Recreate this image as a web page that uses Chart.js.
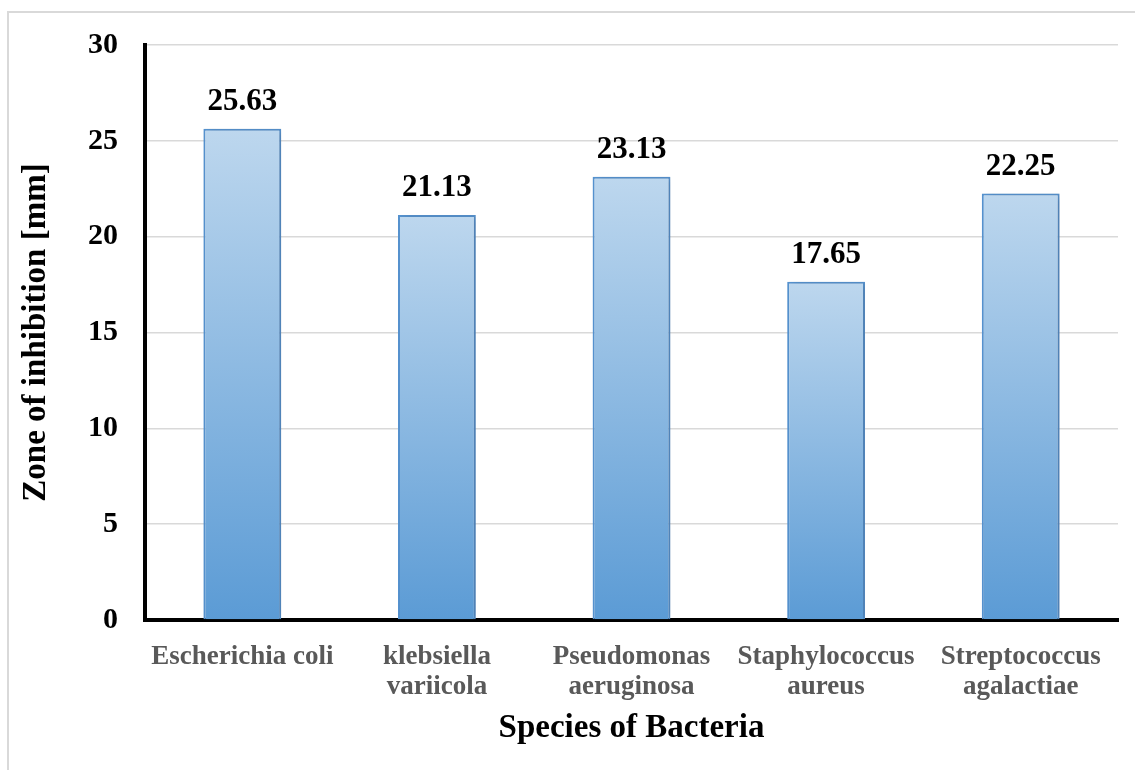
<!DOCTYPE html>
<html>
<head>
<meta charset="utf-8">
<script src="https://cdn.jsdelivr.net/npm/chart.js@4/dist/chart.umd.min.js"></script>
<style>
  html, body { margin: 0; padding: 0; background: #fff; }
  #wrap { position: relative; width: 1135px; height: 770px; overflow: hidden; }
  #frame { position: absolute; left: 7px; top: 11px; width: 1200px; height: 800px; border: 2px solid #d9d9d9; box-sizing: border-box; }
  canvas { position: absolute; left: 0; top: 0; }
</style>
</head>
<body>
<div id="wrap">
  <div id="frame"></div>
  <canvas id="chart" width="1135" height="770"></canvas>
</div>
<script>
// Bacterial species tested (multi-line category labels)
const categories = [
  'Escherichia coli',
  ['klebsiella', 'variicola'],
  ['Pseudomonas', 'aeruginosa'],
  ['Staphylococcus', 'aureus'],
  ['Streptococcus', 'agalactiae']
];
// Mean zone of inhibition in mm
const inhibitionZones = [25.63, 21.13, 23.13, 17.65, 22.25];
// Y-axis range and step
const yTicks = [0, 5, 10, 15, 20, 25, 30];

const FONT = '"Liberation Serif", "Times New Roman", Times, serif';

// Vertical gradient per bar, light at top, darker blue at base
function barGradient(ctx) {
  const chart = ctx.chart;
  if (!chart.chartArea || ctx.type !== 'data') return '#9dc3e6';
  const y = chart.scales.y;
  const top = y.getPixelForValue(ctx.raw);
  const base = y.getPixelForValue(0);
  const g = chart.ctx.createLinearGradient(0, top, 0, base);
  g.addColorStop(0, '#bdd7ee');
  g.addColorStop(1, '#5b9bd5');
  return g;
}

// Soft shadow to the right of each bar
const barShadow = {
  id: 'barShadow',
  beforeDatasetsDraw(chart) {
    const c = chart.ctx;
    c.save();
    c.shadowColor = 'rgba(60,70,90,0.28)';
    c.shadowBlur = 7;
    c.shadowOffsetX = 4;
    c.shadowOffsetY = 0;
  },
  afterDatasetsDraw(chart) {
    chart.ctx.restore();
  }
};

// Value labels above each bar
const valueLabels = {
  id: 'valueLabels',
  afterDatasetsDraw(chart) {
    const c = chart.ctx;
    const meta = chart.getDatasetMeta(0);
    c.save();
    c.shadowColor = 'transparent';
    c.fillStyle = '#000';
    c.font = 'bold 31px ' + FONT;
    c.textAlign = 'center';
    c.textBaseline = 'alphabetic';
    meta.data.forEach((bar, i) => {
      const v = chart.data.datasets[0].data[i];
      c.fillText(v.toFixed(2), bar.x, bar.y - 19);
    });
    c.restore();
  }
};

new Chart(document.getElementById('chart'), {
  type: 'bar',
  data: {
    labels: categories,
    datasets: [{
      data: inhibitionZones,
      backgroundColor: barGradient,
      borderColor: '#5592cf',
      borderWidth: 2,
      borderSkipped: 'bottom',
      barPercentage: 0.4,
      categoryPercentage: 1.0
    }]
  },
  options: {
    responsive: false,
    animation: false,
    devicePixelRatio: 1,
    layout: { padding: { top: 43, right: 17, bottom: 0, left: 0 } },
    plugins: {
      legend: { display: false },
      tooltip: { enabled: false }
    },
    scales: {
      x: {
        grid: { display: false, drawTicks: false },
        border: { display: true, color: '#000', width: 4 },
        ticks: {
          color: '#595959',
          padding: 22,
          maxRotation: 0,
          autoSkip: false,
          font: { family: FONT, size: 27, weight: 'bold', lineHeight: 1.11 }
        },
        title: {
          display: true,
          text: 'Species of Bacteria',
          color: '#000',
          padding: { top: 0, bottom: 22 },
          font: { family: FONT, size: 33, weight: 'bold', lineHeight: 1.2 }
        },
        afterFit(scale) { scale.height = 150; }
      },
      y: {
        min: yTicks[0],
        max: yTicks[yTicks.length - 1],
        afterBuildTicks(scale) { scale.ticks = yTicks.map(v => ({ value: v })); },
        grid: { color: '#d9d9d9', lineWidth: 1.5, drawTicks: false },
        border: { display: true, color: '#000', width: 4 },
        ticks: {
          color: '#000',
          padding: 27,
          font: { family: FONT, size: 30, weight: 'bold' }
        },
        title: {
          display: true,
          text: 'Zone of inhibition [mm]',
          color: '#000',
          padding: { top: 17, bottom: 0 },
          font: { family: FONT, size: 33, weight: 'bold', lineHeight: 1.2 }
        },
        afterFit(scale) { scale.width = 145; }
      }
    }
  },
  plugins: [barShadow, valueLabels]
});
</script>
</body>
</html>
